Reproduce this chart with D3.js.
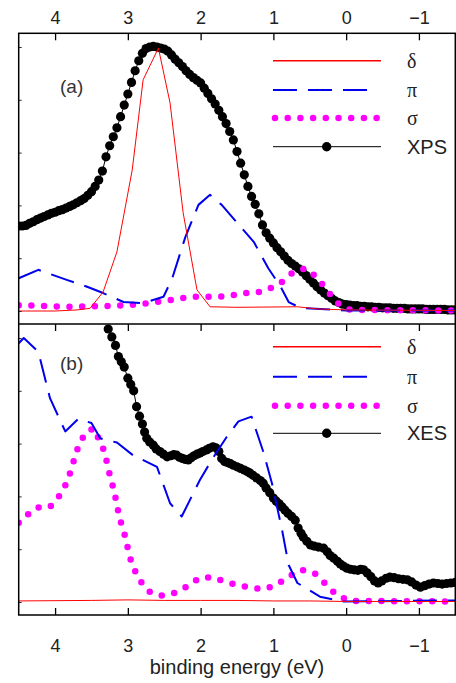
<!DOCTYPE html>
<html>
<head>
<meta charset="utf-8">
<script src="https://cdn.jsdelivr.net/npm/d3@7"></script>
<style>
body { margin: 0; background: #fff; }
</style>
</head>
<body>
<div id="chart"></div>
<script>
// binding energy (eV), intensity (arb. units)
var xTicks = [4, 3, 2, 1, 0, -1];
var yTicks = [0, 1, 2, 3, 4, 5];
var legendA = ["δ", "π", "σ", "XPS"];
var legendB = ["δ", "π", "σ", "XES"];

var xpsA = [
[4.50,1.61],[4.45,1.61],[4.40,1.62],[4.35,1.66],[4.30,1.69],[4.25,1.73],[4.20,1.76],[4.15,1.79],[4.10,1.82],[4.05,1.85],
[4.00,1.87],[3.95,1.90],[3.90,1.92],[3.85,1.95],[3.80,1.98],[3.75,2.01],[3.70,2.05],[3.65,2.09],[3.60,2.13],[3.55,2.19],
[3.50,2.26],[3.45,2.36],[3.40,2.48],[3.35,2.65],[3.30,2.92],[3.25,3.13],[3.20,3.30],[3.15,3.47],[3.10,3.68],[3.05,3.90],
[3.00,4.11],[2.95,4.33],[2.90,4.55],[2.85,4.74],[2.80,4.88],[2.75,4.97],[2.70,5.00],[2.65,5.01],[2.60,5.00],[2.55,4.98],
[2.50,4.96],[2.45,4.92],[2.40,4.85],[2.35,4.77],[2.30,4.70],[2.25,4.63],[2.20,4.55],[2.15,4.48],[2.10,4.42],[2.05,4.37],
[2.00,4.32],[1.95,4.22],[1.90,4.12],[1.85,4.02],[1.80,3.92],[1.75,3.80],[1.70,3.68],[1.65,3.55],[1.60,3.40],[1.55,3.24],
[1.50,3.02],[1.45,2.80],[1.40,2.58],[1.35,2.36],[1.30,2.17],[1.25,2.02],[1.20,1.84],[1.15,1.63],[1.10,1.48],[1.05,1.38],
[1.00,1.29],[0.95,1.20],[0.90,1.12],[0.85,1.04],[0.80,0.96],[0.75,0.90],[0.70,0.85],[0.65,0.80],[0.60,0.74],[0.55,0.67],
[0.50,0.60],[0.45,0.53],[0.40,0.46],[0.35,0.40],[0.30,0.34],[0.25,0.29],[0.20,0.24],[0.15,0.19],[0.10,0.16],[0.05,0.13],
[0.00,0.12],[-0.05,0.11],[-0.10,0.10],[-0.15,0.10],[-0.20,0.09],[-0.25,0.09],[-0.30,0.08],[-0.35,0.08],[-0.40,0.07],[-0.45,0.07],
[-0.50,0.06],[-0.55,0.06],[-0.60,0.06],[-0.65,0.05],[-0.70,0.05],[-0.75,0.05],[-0.80,0.05],[-0.85,0.04],[-0.90,0.04],[-0.95,0.04],
[-1.00,0.04],[-1.05,0.04],[-1.10,0.03],[-1.15,0.03],[-1.20,0.03],[-1.25,0.03],[-1.30,0.03],[-1.35,0.03],[-1.40,0.02],[-1.45,0.02],[-1.50,0.02]
];
var deltaA = [[4.5,0],[4.0,0],[3.7,0.02],[3.52,0.05],[3.34,0.36],[3.15,1.12],[2.94,2.67],[2.79,4.38],[2.58,4.98],[2.42,3.94],
[2.24,1.86],[2.05,0.4],[1.87,0.08],[1.5,0.07],[0.67,0.08],[0.4,0.04],[0,0.02],[-1.5,0.01]];
var piA = [[4.5,0.62],[4.23,0.78],[3.84,0.59],[3.56,0.46],[3.34,0.34],[3.06,0.17],[2.79,0.15],[2.51,0.27],[2.39,0.62],[2.21,1.40],
[2.03,2.01],[1.87,2.2],[1.71,2.01],[1.41,1.53],[1.27,1.31],[1.07,0.81],[0.9,0.46],[0.79,0.17],[0.63,0.06],[0,0.01],[-1.5,0.01]];
var sigmaA = [[4.5,0.11],[4.23,0.10],[3.9,0.08],[3.52,0.09],[3.15,0.10],[2.83,0.13],[2.49,0.19],[2.14,0.27],[1.8,0.27],[1.62,0.28],
[1.43,0.34],[1.25,0.34],[1.09,0.40],[0.9,0.53],[0.74,0.72],[0.56,0.81],[0.4,0.64],[0.27,0.40],[0.12,0.15],[-0.06,0.02],[-1.5,0.01]];

var xesB = [
[3.27,5.17],[3.22,5.02],[3.17,4.86],[3.13,4.65],[3.09,4.55],[3.05,4.45],[3.00,4.24],[2.96,4.12],[2.92,4.00],[2.88,3.70],
[2.84,3.52],[2.80,3.37],[2.77,3.22],[2.74,3.10],[2.70,3.03],[2.65,2.97],[2.61,2.90],[2.56,2.85],[2.51,2.80],[2.46,2.75],
[2.41,2.77],[2.37,2.79],[2.33,2.78],[2.29,2.74],[2.25,2.72],[2.21,2.70],[2.17,2.69],[2.13,2.73],[2.09,2.77],[2.05,2.80],
[2.01,2.82],[1.97,2.85],[1.92,2.88],[1.88,2.91],[1.83,2.94],[1.79,2.92],[1.75,2.85],[1.71,2.72],[1.67,2.66],[1.63,2.64],
[1.59,2.62],[1.55,2.59],[1.50,2.56],[1.45,2.53],[1.40,2.50],[1.36,2.47],[1.32,2.44],[1.28,2.40],[1.23,2.35],[1.18,2.30],
[1.14,2.25],[1.10,2.16],[1.05,2.07],[1.00,1.97],[0.96,1.91],[0.92,1.86],[0.88,1.80],[0.84,1.74],[0.80,1.68],[0.75,1.62],
[0.70,1.55],[0.66,1.40],[0.62,1.30],[0.59,1.23],[0.54,1.15],[0.49,1.08],[0.44,1.06],[0.38,1.04],[0.31,1.02],[0.26,0.95],
[0.22,0.88],[0.17,0.83],[0.12,0.77],[0.08,0.72],[0.04,0.68],[-0.01,0.64],[-0.06,0.62],[-0.11,0.61],[-0.16,0.60],[-0.20,0.62],
[-0.24,0.61],[-0.29,0.55],[-0.34,0.48],[-0.39,0.40],[-0.44,0.36],[-0.49,0.40],[-0.55,0.45],[-0.60,0.47],[-0.66,0.46],[-0.72,0.44],
[-0.78,0.43],[-0.84,0.42],[-0.90,0.38],[-0.96,0.32],[-1.02,0.28],[-1.08,0.31],[-1.14,0.34],[-1.20,0.36],[-1.26,0.35],[-1.32,0.34],
[-1.38,0.35],[-1.44,0.36],[-1.50,0.37]
];
var deltaB = [[4.5,0.02],[3.5,0.03],[3.0,0.04],[2.5,0.03],[2.0,0.03],[1.5,0.03],[1.0,0.02],[0.5,0.02],[0,0.01],[-1.5,0.01]];
var piB = [[4.5,4.9],[4.43,5.0],[4.23,4.74],[4.07,3.86],[3.86,3.23],[3.68,3.47],[3.5,3.39],[3.38,3.1],[3.15,3.02],[2.93,2.78],
[2.6,2.56],[2.42,1.87],[2.26,1.62],[2.01,2.31],[1.83,2.73],[1.64,3.13],[1.48,3.42],[1.3,3.51],[1.14,2.85],[1.02,2.25],
[0.88,1.36],[0.79,0.7],[0.67,0.36],[0.36,0.1],[0.04,0.01],[-1.5,0.03]];
var sigmaB = [[4.5,1.5],[4.41,1.62],[4.24,1.79],[4.07,1.8],[3.93,2.03],[3.84,2.26],[3.78,2.5],[3.73,2.74],[3.67,2.99],[3.57,3.23],
[3.46,3.29],[3.39,3.05],[3.31,2.82],[3.28,2.56],[3.23,2.33],[3.19,2.09],[3.15,1.86],[3.12,1.61],[3.06,1.36],[3.02,1.14],
[2.98,0.88],[2.92,0.64],[2.83,0.4],[2.71,0.2],[2.54,0.12],[2.36,0.17],[2.19,0.29],[2.02,0.45],[1.84,0.47],[1.66,0.38],
[1.49,0.32],[1.32,0.27],[1.14,0.24],[0.96,0.32],[0.79,0.48],[0.61,0.61],[0.43,0.54],[0.28,0.34],[0.13,0.13],[-0.06,0.02],[-1.5,0.01]];

var W = 456, H = 683;
var pLeft = 18.7, pRight = 455.3, pTop = 33.3, pMid = 324, pBottom = 615;

var svg = d3.select("#chart").append("svg")
    .attr("width", W)
    .attr("height", H)
    .style("font-family", "'Liberation Sans', Arial, sans-serif");

var x = d3.scaleLinear().domain([4.5, -1.5]).range([pLeft, pRight]);
var ya = d3.scaleLinear().domain([0, 5]).range([311, 47]);
var yb = d3.scaleLinear().domain([0, 5]).range([602, 338]);

var styles = {
    "δ": {stroke: "#ff0000", width: 1, dash: null},
    "π": {stroke: "#0000ee", width: 2, dash: "24,11"},
    "σ": {stroke: "#ff00ff", width: 6.5, dash: "0,12.7"}
};

var defs = svg.append("defs");
defs.append("clipPath").attr("id", "clipA").append("rect")
    .attr("x", pLeft).attr("y", pTop).attr("width", pRight - pLeft).attr("height", pMid - pTop);
defs.append("clipPath").attr("id", "clipB").append("rect")
    .attr("x", pLeft).attr("y", pMid).attr("width", pRight - pLeft).attr("height", pBottom - pMid);

var drawPanel = function(y, clip, dots, delta, pi, sigma) {
    var g = svg.append("g").attr("clip-path", "url(#" + clip + ")");
    var line = d3.line().x(function(d) { return x(d[0]); }).y(function(d) { return y(d[1]); });

    g.append("path").datum(dots)
	.attr("d", line)
	.attr("fill", "none")
	.attr("stroke", "#000")
	.attr("stroke-width", 1);
    g.selectAll("circle.dot").data(dots).enter()
	.append("circle")
	.attr("class", "dot")
	.attr("cx", function(d) { return x(d[0]); })
	.attr("cy", function(d) { return y(d[1]); })
	.attr("r", 4.6)
	.attr("fill", "#000");

    [["σ", sigma], ["π", pi], ["δ", delta]].forEach(function(s) {
	var st = styles[s[0]];
	g.append("path").datum(s[1])
	    .attr("d", line)
	    .attr("fill", "none")
	    .attr("stroke", st.stroke)
	    .attr("stroke-width", st.width)
	    .attr("stroke-dasharray", st.dash)
	    .attr("stroke-linecap", s[0] == "σ" ? "round" : "butt")
	    .attr("stroke-linejoin", "round");
    });

    svg.append("g")
	.attr("transform", "translate(" + pLeft + ",0)")
	.call(d3.axisLeft(y).tickValues(yTicks).tickSize(-3).tickFormat(""))
	.call(function(a) { a.select(".domain").remove(); a.selectAll("line").attr("stroke", "#333"); });
};

drawPanel(ya, "clipA", xpsA, deltaA, piA, sigmaA);
drawPanel(yb, "clipB", xesB, deltaB, piB, sigmaB);

// x axes
var topAxis = svg.append("g")
    .attr("transform", "translate(0," + pTop + ")")
    .call(d3.axisTop(x).tickValues(xTicks).tickSize(-7).tickPadding(9).tickFormat(d3.format("d")));
var midAxis = svg.append("g")
    .attr("transform", "translate(0," + pMid + ")")
    .call(d3.axisTop(x).tickValues(xTicks).tickSize(-7).tickFormat(""));
var botAxis = svg.append("g")
    .attr("transform", "translate(0," + pBottom + ")")
    .call(d3.axisBottom(x).tickValues(xTicks).tickSize(-7).tickPadding(24).tickFormat(d3.format("d")));

[topAxis, midAxis, botAxis].forEach(function(a) {
    a.select(".domain").remove();
    a.selectAll("line").attr("stroke", "#000").attr("stroke-width", 1.3);
    a.selectAll("text").attr("fill", "#222").style("font-size", "18px")
	.style("font-family", "'Liberation Sans', Arial, sans-serif");
});

// frame
svg.append("rect")
    .attr("x", pLeft).attr("y", pTop)
    .attr("width", pRight - pLeft).attr("height", pBottom - pTop)
    .attr("fill", "none").attr("stroke", "#000").attr("stroke-width", 1.5);
svg.append("line")
    .attr("x1", pLeft).attr("x2", pRight).attr("y1", pMid).attr("y2", pMid)
    .attr("stroke", "#000").attr("stroke-width", 1.5);

svg.append("text")
    .attr("x", (pLeft + pRight) / 2)
    .attr("y", 674)
    .attr("text-anchor", "middle")
    .attr("fill", "#222")
    .style("font-size", "20px")
    .text("binding energy (eV)");

svg.append("text").attr("x", 60).attr("y", 93).attr("fill", "#333").style("font-size", "19px").text("(a)");
svg.append("text").attr("x", 60).attr("y", 370).attr("fill", "#333").style("font-size", "19px").text("(b)");

var drawLegend = function(names, rows) {
    names.forEach(function(name, i) {
	var yy = rows[i];
	var st = styles[name];
	if (st) {
	    svg.append("line")
		.attr("x1", name == "σ" ? 275 : 273)
		.attr("x2", name == "π" ? 370 : 381)
		.attr("y1", yy).attr("y2", yy)
		.attr("stroke", st.stroke)
		.attr("stroke-width", name == "δ" ? 1.5 : st.width)
		.attr("stroke-dasharray", st.dash)
		.attr("stroke-linecap", name == "σ" ? "round" : "butt");
	} else {
	    svg.append("line")
		.attr("x1", 273).attr("x2", 381).attr("y1", yy).attr("y2", yy)
		.attr("stroke", "#000").attr("stroke-width", 1);
	    svg.append("circle").attr("cx", 326.7).attr("cy", yy).attr("r", 4.7).attr("fill", "#000");
	}
	svg.append("text")
	    .attr("x", 407)
	    .attr("y", yy + 7)
	    .attr("fill", "#222")
	    .style("font-size", "20px")
	    .style("font-family", st ? "'Liberation Serif', 'DejaVu Serif', serif" : "'Liberation Sans', Arial, sans-serif")
	    .text(name);
    });
};

drawLegend(legendA, [60.7, 90, 118, 146.7]);
drawLegend(legendB, [346.7, 376.7, 405.7, 433.3]);
</script>
</body>
</html>
